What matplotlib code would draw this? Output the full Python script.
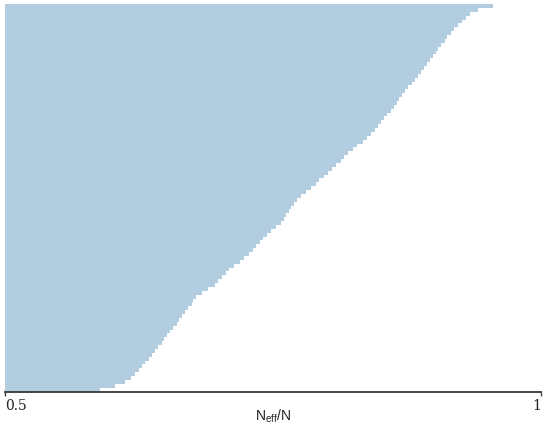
import numpy as np
import matplotlib
matplotlib.use("Agg")
import matplotlib.pyplot as plt

# effective sample size ratios, sorted (bottom bar first)
neff_ratio = [
    0.589, 0.603, 0.612, 0.618, 0.621, 0.625, 0.628, 0.631, 0.634, 0.637,
    0.640, 0.643, 0.646, 0.648, 0.651, 0.654, 0.657, 0.660, 0.662, 0.665,
    0.668, 0.671, 0.674, 0.675, 0.678, 0.684, 0.689, 0.696, 0.699, 0.702,
    0.706, 0.709, 0.714, 0.719, 0.723, 0.728, 0.731, 0.734, 0.738, 0.741,
    0.744, 0.748, 0.753, 0.757, 0.760, 0.762, 0.765, 0.767, 0.770, 0.772,
    0.776, 0.781, 0.785, 0.790, 0.793, 0.798, 0.801, 0.805, 0.809, 0.813,
    0.816, 0.820, 0.825, 0.828, 0.834, 0.838, 0.841, 0.845, 0.848, 0.851,
    0.854, 0.856, 0.860, 0.863, 0.866, 0.868, 0.870, 0.873, 0.876, 0.880,
    0.882, 0.885, 0.888, 0.891, 0.894, 0.896, 0.899, 0.902, 0.904, 0.907,
    0.910, 0.912, 0.916, 0.919, 0.923, 0.926, 0.930, 0.934, 0.941, 0.955,
]
x_ticks = [0.5, 1]
x_tick_labels = ["0.5", "1"]

plt.rcParams['mathtext.fontset'] = 'custom'
plt.rcParams['mathtext.rm'] = 'Liberation Sans'

fig = plt.figure(figsize=(5.5, 4.29), dpi=100)
ax = fig.add_axes([5 / 550, 1 - 392 / 429, 536 / 550, 388 / 429])

n = len(neff_ratio)
ypos = np.arange(n)
vals = np.array(neff_ratio)
ax.barh(ypos, vals - 0.5, left=0.5, height=1.0, color="#b3cde0",
        edgecolor="none", linewidth=0)

ax.set_xlim(0.5, 1)
ax.set_ylim(-0.6, n - 0.5)

for s in ["top", "left", "right"]:
    ax.spines[s].set_visible(False)
ax.spines["bottom"].set_color("#444444")
ax.spines["bottom"].set_linewidth(1.4)
ax.set_yticks([])
ax.set_xticks(x_ticks)
ax.set_xticklabels(x_tick_labels, family="DejaVu Serif", fontsize=10,
                   color="#222222")
ax.tick_params(axis="x", length=3, width=1, color="#444444", pad=2)
labs = ax.get_xticklabels()
labs[0].set_ha("left")
labs[-1].set_ha("right")

ax.set_xlabel(r"$\mathrm{N_{eff}/N}$", fontsize=10, color="#222222",
              va="center")
ax.xaxis.set_label_coords(0.5, -(416 - 392) / 388)

fig.savefig("out.png", dpi=100)
